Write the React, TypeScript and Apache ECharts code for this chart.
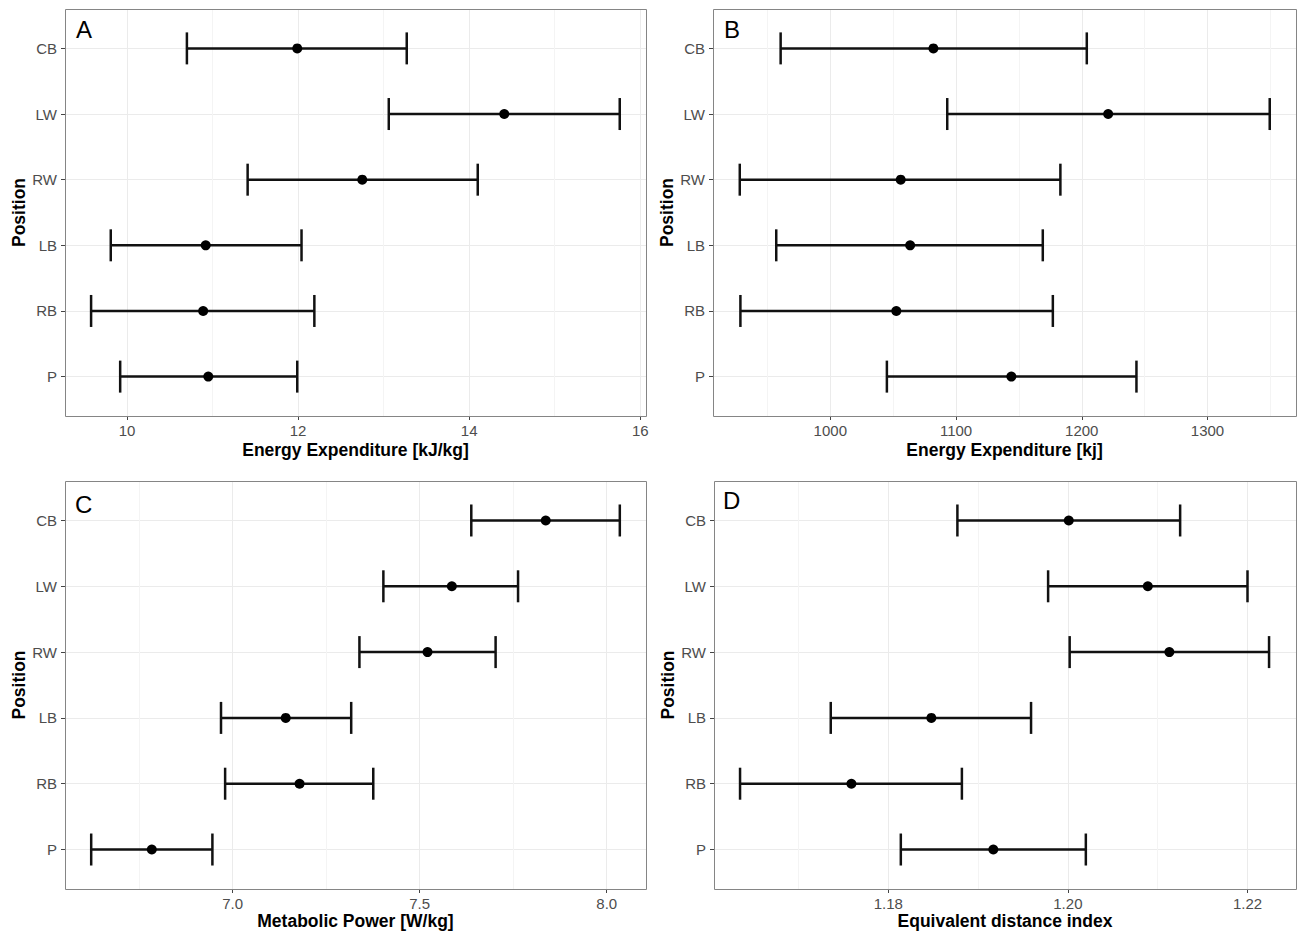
import React, { useEffect, useRef } from 'react';
import * as echarts from 'echarts';

// Categories (top to bottom)
const positions = ['CB', 'LW', 'RW', 'LB', 'RB', 'P'];

// Panel A: Energy Expenditure [kJ/kg]
const eeKgMean = [11.99, 14.41, 12.75, 10.92, 10.89, 10.95];
const eeKgLow = [10.7, 13.06, 11.41, 9.81, 9.58, 9.92];
const eeKgHigh = [13.27, 15.76, 14.1, 12.04, 12.19, 11.99];

// Panel B: Energy Expenditure [kj]
const eeKjMean = [1082, 1221, 1056, 1063.5, 1052.5, 1144];
const eeKjLow = [960.5, 1093, 928, 957, 928.5, 1045];
const eeKjHigh = [1204, 1349.5, 1183, 1169, 1177, 1243.5];

// Panel C: Metabolic Power [W/kg]
const mpMean = [7.837, 7.586, 7.521, 7.142, 7.179, 6.784];
const mpLow = [7.638, 7.403, 7.339, 6.969, 6.98, 6.622];
const mpHigh = [8.035, 7.763, 7.703, 7.317, 7.376, 6.946];

// Panel D: Equivalent distance index
const ediMean = [1.2001, 1.2089, 1.2113, 1.1848, 1.1759, 1.1917];
const ediLow = [1.1877, 1.1978, 1.2002, 1.1736, 1.1635, 1.1814];
const ediHigh = [1.2125, 1.22, 1.2224, 1.1959, 1.1882, 1.202];

// Tick labels
const ticksA = [10, 12, 14, 16];
const ticksB = [1000, 1100, 1200, 1300];
const ticksC = [7.0, 7.5, 8.0];
const ticksD = [1.18, 1.2, 1.22];
const yTicks = [1, 2, 3, 4, 5, 6];

const FONT = "'Liberation Sans', Arial, sans-serif";

const panels = [
  { letter: 'A', title: 'Energy Expenditure [kJ/kg]', mean: eeKgMean, low: eeKgLow, high: eeKgHigh, ticks: ticksA, dec: 0, min: 9.275, max: 16.067, split: 3, grid: { left: 65, top: 9, width: 581, height: 407 }, nameGap: 25, lx: 76, ly: 29 },
  { letter: 'B', title: 'Energy Expenditure [kj]', mean: eeKjMean, low: eeKjLow, high: eeKjHigh, ticks: ticksB, dec: 0, min: 906.7, max: 1370.4, split: 5, grid: { left: 713, top: 9, width: 583, height: 407 }, nameGap: 25, lx: 724, ly: 29 },
  { letter: 'C', title: 'Metabolic Power [W/kg]', mean: mpMean, low: mpLow, high: mpHigh, ticks: ticksC, dec: 1, min: 6.552, max: 8.105, split: 3, grid: { left: 65, top: 481, width: 581, height: 408 }, nameGap: 23, lx: 75, ly: 504 },
  { letter: 'D', title: 'Equivalent distance index', mean: ediMean, low: ediLow, high: ediHigh, ticks: ticksD, dec: 2, min: 1.1606, max: 1.2254, split: 3, grid: { left: 714, top: 481, width: 582, height: 408 }, nameGap: 23, lx: 723, ly: 500 },
];

const yOf = (i: number) => positions.length - i;

export default function App() {
  const ref = useRef<HTMLDivElement>(null);
  useEffect(() => {
    if (!ref.current) return;
    const chart = echarts.init(ref.current, null, { renderer: 'svg' });

    const grids: any[] = [];
    const xAxes: any[] = [];
    const yAxes: any[] = [];
    const series: any[] = [];
    const graphics: any[] = [];

    panels.forEach((p, k) => {
      grids.push({ ...p.grid, containLabel: false, show: false });
      xAxes.push({
        type: 'value',
        gridIndex: k,
        min: p.min,
        max: p.max,
        splitNumber: p.split,
        name: p.title,
        nameLocation: 'middle',
        nameGap: p.nameGap,
        nameTextStyle: { fontFamily: FONT, fontSize: 17.5, fontWeight: 'bold', color: '#000' },
        axisLine: { show: false },
        axisTick: { show: true, length: 4, lineStyle: { color: '#444', width: 1 }, customValues: p.ticks },
        axisLabel: {
          show: true,
          customValues: p.ticks,
          margin: 7,
          fontFamily: FONT,
          fontSize: 15,
          color: '#4d4d4d',
          formatter: (v: number) => v.toFixed(p.dec),
        },
        splitLine: { show: true, lineStyle: { color: '#ebebeb', width: 1 } },
        minorTick: { show: false, splitNumber: 2 },
        minorSplitLine: { show: true, lineStyle: { color: '#f4f4f4', width: 1 } },
      });
      yAxes.push({
        type: 'value',
        gridIndex: k,
        min: 0.4,
        max: 6.6,
        splitNumber: 5,
        name: 'Position',
        nameLocation: 'middle',
        nameGap: 37,
        nameTextStyle: { fontFamily: FONT, fontSize: 17.5, fontWeight: 'bold', color: '#000' },
        axisLine: { show: false },
        axisTick: { show: true, length: 4, lineStyle: { color: '#444', width: 1 }, customValues: yTicks },
        axisLabel: {
          show: true,
          customValues: yTicks,
          margin: 8,
          fontFamily: FONT,
          fontSize: 15,
          color: '#4d4d4d',
          formatter: (v: number) => positions[positions.length - Math.round(v)] ?? '',
        },
        splitLine: { show: true, lineStyle: { color: '#ebebeb', width: 1 } },
      });
      series.push({
        type: 'custom',
        xAxisIndex: k,
        yAxisIndex: k,
        encode: { x: [1, 2], y: 0 },
        data: positions.map((_, i) => [yOf(i), p.low[i], p.high[i]]),
        renderItem: (params: any, api: any) => {
          const y = api.value(0);
          const a = api.coord([api.value(1), y]);
          const b = api.coord([api.value(2), y]);
          const h = 16;
          const st = { stroke: '#111', lineWidth: 2.5 };
          return {
            type: 'group',
            children: [
              { type: 'line', shape: { x1: a[0], y1: a[1], x2: b[0], y2: b[1] }, style: st },
              { type: 'line', shape: { x1: a[0], y1: a[1] - h, x2: a[0], y2: a[1] + h }, style: st },
              { type: 'line', shape: { x1: b[0], y1: b[1] - h, x2: b[0], y2: b[1] + h }, style: st },
            ],
          };
        },
        z: 3,
      });
      series.push({
        type: 'scatter',
        xAxisIndex: k,
        yAxisIndex: k,
        symbol: 'circle',
        symbolSize: 10,
        itemStyle: { color: '#000', opacity: 1 },
        data: positions.map((_, i) => [p.mean[i], yOf(i)]),
        z: 4,
      });
      graphics.push({
        type: 'rect',
        z: 100,
        shape: { x: p.grid.left + 0.5, y: p.grid.top + 0.5, width: p.grid.width, height: p.grid.height },
        style: { fill: 'none', stroke: '#858585', lineWidth: 1 },
        silent: true,
      });
      graphics.push({
        type: 'text',
        z: 101,
        x: p.lx,
        y: p.ly,
        style: { text: p.letter, fontFamily: FONT, fontSize: 24, fill: '#000', align: 'left', verticalAlign: 'middle' },
        silent: true,
      });
    });

    chart.setOption({
      animation: false,
      backgroundColor: '#fff',
      grid: grids,
      xAxis: xAxes,
      yAxis: yAxes,
      series,
      graphic: graphics,
    });
    return () => chart.dispose();
  }, []);
  return <div ref={ref} style={{ position: 'absolute', left: 0, top: 0, width: 1297, height: 935, background: '#fff' }} />;
}
